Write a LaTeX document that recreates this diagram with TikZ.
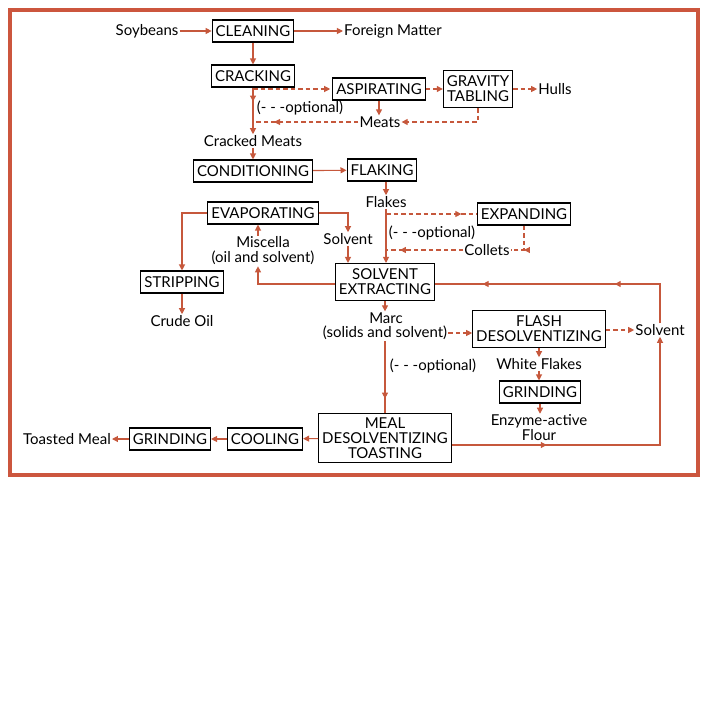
\documentclass[tikz,border=0pt]{standalone}
\usepackage{fontspec}
\setmainfont{Lato}
\usetikzlibrary{arrows.meta,decorations.markings}
\definecolor{flowred}{RGB}{198,88,60}
\definecolor{framered}{RGB}{204,86,62}
\tikzset{
	box/.style={draw=black, line width=1.1pt, inner xsep=3.5pt, inner ysep=5.5pt, align=center},
	lbl/.style={align=center, inner sep=1pt},
	flow/.style={draw=flowred, line width=1.1pt, -{Triangle[length=6pt,width=6pt]}},
	line/.style={draw=flowred, line width=1.1pt},
	opt/.style={line, dash pattern=on 4.5pt off 3pt},
	midarr/.style={postaction={decorate, decoration={markings, mark=at position #1 with {\arrow{Triangle[length=6pt,width=6pt]}}}}}
}
\begin{document}
\begin{tikzpicture}[x=1pt, y=-1pt, font=\fontsize{15}{15}\selectfont]
			%%%%% START %%%%%
			\useasboundingbox (0,0) rectangle (709,709);
			\draw[framered, line width=3.2pt] (10,10) rectangle (698,475);
			
			% preparation
			\node[lbl] (soy) at (147,31) {Soybeans};
			\node[box] (clean) at (253,31) {CLEANING};
			\node[lbl] (foreign) at (393,31) {Foreign Matter};
			\node[box] (crack) at (253,76) {CRACKING};
			\node[box] (aspir) at (379,89) {ASPIRATING};
			\node[box] (grav) at (478,89) {GRAVITY\\TABLING};
			\node[lbl] (hulls) at (555,89) {Hulls};
			\node[lbl] (meats) at (380,122) {Meats};
			\node[lbl] (opta) at (300,108) {(- - -optional)};
			\node[lbl] (crmeats) at (253,141) {Cracked Meats};
			\node[box] (cond) at (253,171) {CONDITIONING};
			\node[box] (flak) at (382,170) {FLAKING};
			\node[lbl] (flakes) at (386,202) {Flakes};
			\node[box] (expand) at (524,214) {EXPANDING};
			\node[lbl] (optb) at (432,233) {(- - -optional)};
			\node[lbl] (collets) at (487,250) {Collets};
			
			% extraction
			\node[box] (evap) at (263,213) {EVAPORATING};
			\node[lbl] (miscella) at (263,251) {Miscella\\(oil and solvent)};
			\node[lbl] (solva) at (348,239) {Solvent};
			\node[box] (strip) at (182,282) {STRIPPING};
			\node[lbl] (crude) at (182,321) {Crude Oil};
			\node[box] (extract) at (385,282) {SOLVENT\\EXTRACTING};
			\node[lbl] (marc) at (386,318) {Marc};
			\node[lbl] (solids) at (385,333) {(solids and solvent)};
			\node[box] (flash) at (539,329) {FLASH\\DESOLVENTIZING};
			\node[lbl] (solvb) at (660,330) {Solvent};
			\node[lbl] (optc) at (433,366) {(- - -optional)};
			\node[lbl] (white) at (539,364) {White Flakes};
			\node[box] (grindb) at (540,392) {GRINDING};
			\node[lbl] (enzyme) at (539,428) {Enzyme-active\\Flour};
			
			% meal
			\node[box, inner ysep=4pt] (meal) at (385,438) {MEAL\\DESOLVENTIZING\\TOASTING};
			\node[box] (cool) at (265,439) {COOLING};
			\node[box] (grinda) at (170,439) {GRINDING};
			\node[lbl] (toasted) at (67,439) {Toasted Meal};
			
			% connectors
			\draw[flow] (soy) -- (clean);
			\draw[flow] (clean) -- (foreign);
			\draw[flow] (clean) -- (crack);
			\draw[flow, midarr=0.3] (crack) -- (crmeats);
			\draw[opt, -{Triangle[length=6pt,width=6pt]}, shorten >=2pt] (crack.south |- aspir.west) -- (aspir.west);
			\draw[flow] (aspir.south) -- (aspir.south |- meats.north);
			\draw[opt, -{Triangle[length=6pt,width=6pt]}] (aspir) -- (grav);
			\draw[opt, -{Triangle[length=6pt,width=6pt]}] (grav) -- (hulls);
			\draw[opt, -{Triangle[length=6pt,width=6pt]}] (grav.south) |- (meats.east);
			\draw[opt, midarr=0.8] (meats.west) -- (crack.south |- meats.west);
			\draw[flow] (crmeats) -- (cond);
			\draw[flow] (cond) -- (flak);
			\draw[flow] (flakes.north |- flak.south) -- (flakes.north);
			\draw[flow] (flakes.south) -- (flakes.south |- extract.north);
			\draw[opt, midarr=0.83] (flakes.south |- expand.west) -- (expand.west);
			\draw[opt, midarr=0.65] (expand.south) |- (collets.east);
			\draw[opt, midarr=0.82] (collets.west) -- (flakes.south |- collets.west);
			
			\draw[flow] (evap.east) -| (solva.north);
			\draw[flow] (solva.south) -- (solva.south |- extract.north);
			\draw[flow] (evap.west) -| (strip.north);
			\draw[flow] (strip) -- (crude);
			\draw[flow] ([yshift=-2pt]extract.west) -| ([xshift=-5pt]miscella.south);
			\draw[flow] ([xshift=-5pt]miscella.north) -- ([xshift=-5pt]evap.south);
			\draw[flow] (extract.south) -- (extract.south |- marc.north);
			\draw[opt, -{Triangle[length=6pt,width=6pt]}] (solids.east) -- (solids.east -| flash.west);
			\draw[line, midarr=0.8] (solids.south) -- (solids.south |- meal.north);
			\draw[opt, -{Triangle[length=6pt,width=6pt]}] (flash.east |- solvb.west) -- (solvb.west);
			\draw[flow] (flash.south) -- (flash.south |- white.north);
			\draw[flow] (white.south) -- (white.south |- grindb.north);
			\draw[flow] (grindb.south) -- (grindb.south |- enzyme.north);
			\draw[flow, midarr=0.3] ([yshift=-7pt]meal.east) -| (solvb.south);
			\draw[line, midarr=0.32, midarr=0.82] (solvb.north) |- ([yshift=-2pt]extract.east);
			\draw[flow] (meal) -- (cool);
			\draw[flow] (cool) -- (grinda);
			\draw[flow] (grinda) -- (toasted);
			%%%%% END %%%%%
\end{tikzpicture}
\end{document}
